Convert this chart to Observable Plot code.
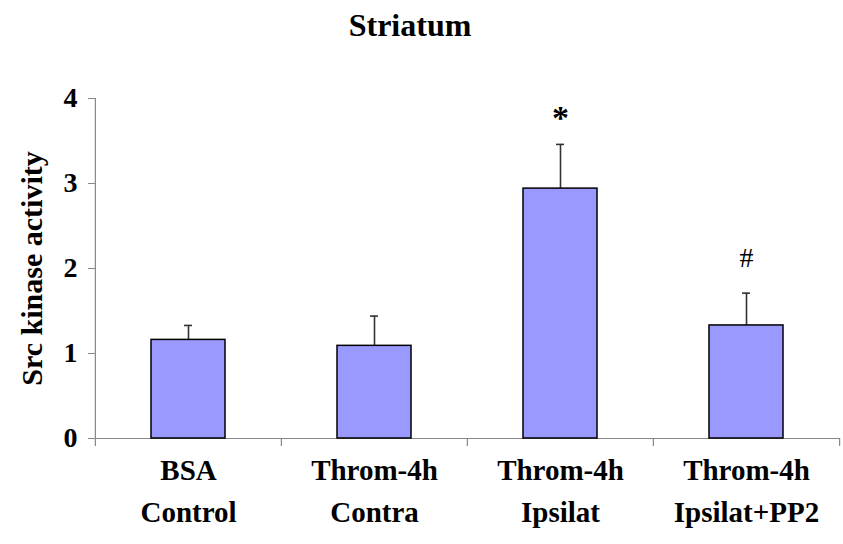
<!DOCTYPE html>
<html>
<head>
<meta charset="utf-8">
<script src="https://cdn.jsdelivr.net/npm/d3@7"></script>
<script src="https://cdn.jsdelivr.net/npm/@observablehq/plot@0.6"></script>
<style>
  body { margin: 0; background: #fff; }
  #title { width: 820px; height: 55px; line-height: 50px; text-align: center;
           font-family: "Liberation Serif", "DejaVu Serif", serif; font-weight: bold; font-size: 32px; color: #000; }
  #chart svg text { font-family: "Liberation Serif", "DejaVu Serif", serif; }
</style>
</head>
<body>
<div id="title">Striatum</div>
<div id="chart"></div>
<script>
const categories = ["BSA\nControl", "Throm-4h\nContra", "Throm-4h\nIpsilat", "Throm-4h\nIpsilat+PP2"];
const values = [1.16, 1.09, 2.94, 1.33];
const errors = [0.17, 0.35, 0.52, 0.38];
const marks = ["", "", "*", "#"];
const yTicks = [0, 1, 2, 3, 4];
const yLabel = "Src kinase activity";

const data = categories.map((c, i) => ({cat: c, value: values[i], err: errors[i], mark: marks[i]}));

const W = 843, H = 489, ML = 95, MR = 3, MT = 43, MB = 106;
const step = (W - ML - MR) / categories.length;
const FONT = "'Liberation Serif', 'DejaVu Serif', serif";

const plot = Plot.plot({
  width: W, height: H,
  marginLeft: ML, marginRight: MR, marginTop: MT, marginBottom: MB,
  style: {fontFamily: FONT, background: "#fff", color: "#000"},
  x: {domain: categories, paddingInner: 0.6, paddingOuter: 0.3, axis: null},
  y: {domain: [0, 4], axis: null},
  marks: [
    Plot.axisY({ticks: yTicks, tickFormat: "d", tickSize: 7, tickPadding: 11, fontSize: 28, fontWeight: "bold", fontFamily: FONT, stroke: "#888", fill: "#000", label: null}),
    Plot.ruleX([categories[0]], {x: d => d, y1: 0, y2: 4, dx: -step / 2, stroke: "#888", strokeWidth: 1.2}),
    Plot.ruleY([0], {stroke: "#888", strokeWidth: 1.2, insetLeft: -5}),
    Plot.ruleX(categories, {x: d => d, y1: 0, y2: 0, insetTop: 8, dx: -step / 2, stroke: "#888", strokeWidth: 1.2}),
    Plot.ruleX([categories[categories.length - 1]], {x: d => d, y1: 0, y2: 0, insetTop: 8, dx: step / 2, stroke: "#888", strokeWidth: 1.2}),
    Plot.ruleX(data, {x: "cat", y1: "value", y2: d => d.value + d.err, stroke: "#333", strokeWidth: 1.6}),
    Plot.tickY(data, {x: "cat", y: d => d.value + d.err, insetLeft: 33, insetRight: 33, stroke: "#333", strokeWidth: 1.6}),
    Plot.barY(data, {x: "cat", y: "value", fill: "#9999FF", stroke: "#000", strokeWidth: 1.5}),
    Plot.text(data.filter(d => d.mark === "*"), {x: "cat", y: d => d.value + d.err, text: "mark", fontFamily: FONT, fontSize: 34, fontWeight: "bold", dy: -26, lineAnchor: "middle"}),
    Plot.text(data.filter(d => d.mark === "#"), {x: "cat", y: d => d.value + d.err, text: "mark", fontFamily: FONT, fontSize: 28, dy: -35, lineAnchor: "middle"}),
    Plot.text(data, {x: "cat", y: 0, text: "cat", fontFamily: FONT, fontSize: 29, fontWeight: "bold", lineAnchor: "top", lineHeight: 1.45, dy: 12}),
    Plot.text([yLabel], {frameAnchor: "left", text: d => d, rotate: -90, dx: -63, textAnchor: "middle", fontFamily: FONT, fontSize: 30, fontWeight: "bold"})
  ]
});
document.getElementById("chart").appendChild(plot);
</script>
</body>
</html>
